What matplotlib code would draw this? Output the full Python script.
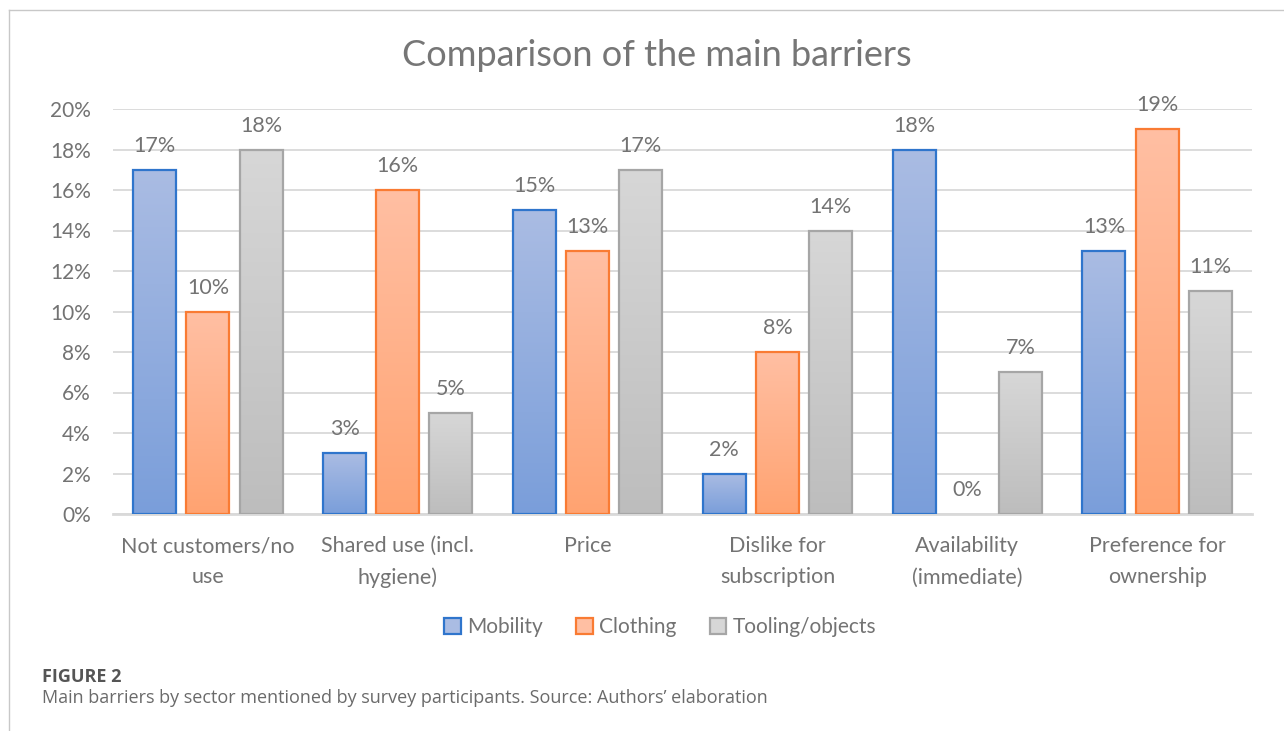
import matplotlib.pyplot as plt
import numpy as np
from matplotlib.colors import LinearSegmentedColormap
from matplotlib.patches import Patch
from matplotlib.lines import Line2D

# Data
categories = ['Not customers/no\nuse', 'Shared use (incl.\nhygiene)', 'Price',
              'Dislike for\nsubscription', 'Availability\n(immediate)', 'Preference for\nownership']
series_names = ['Mobility', 'Clothing', 'Tooling/objects']
mobility = [17, 3, 15, 2, 18, 13]
clothing = [10, 16, 13, 8, 0, 19]
tooling = [18, 5, 17, 14, 7, 11]
yticks = [0, 2, 4, 6, 8, 10, 12, 14, 16, 18, 20]

# Styles: (top colour, bottom colour, edge colour)
styles = [('#AABCE3', '#7A9EDA', '#2F75CC'),
          ('#FFBFA3', '#FFA371', '#F97B33'),
          ('#D7D7D7', '#BDBDBD', '#A6A6A6')]
text_col = '#737373'

plt.rcParams['font.family'] = ['Lato', 'DejaVu Sans']

fig = plt.figure(figsize=(12.84, 7.31), dpi=100)
ax = fig.add_axes([113 / 1284, 1 - 514 / 731, (1252 - 113) / 1284, (514 - 109) / 731])

x = np.arange(len(categories))
width = 0.227
offsets = [-0.28, 0, 0.28]
grad = np.linspace(1, 0, 256).reshape(-1, 1)

for vals, off, (top, bot, edge) in zip([mobility, clothing, tooling], offsets, styles):
    cmap = LinearSegmentedColormap.from_list('g', [bot, top])
    bars = ax.bar(x + off, vals, width, facecolor='none', edgecolor=edge,
                  linewidth=1.6, zorder=4)
    for b, v in zip(bars, vals):
        if v > 0:
            x0 = b.get_x()
            im = ax.imshow(grad, extent=[x0, x0 + width, 0, v], aspect='auto',
                           cmap=cmap, vmin=0, vmax=1, zorder=3, origin='upper')
            im.set_clip_path(b)
        else:
            b.set_linewidth(0)
        ax.annotate(f'{v}%', (b.get_x() + width / 2, v), xytext=(0, 10),
                    textcoords='offset points', ha='center', va='bottom',
                    fontsize=15.5, color=text_col)

ax.set_xlim(-0.5, len(categories) - 0.5)
ax.set_ylim(0, 20)
ax.set_yticks(yticks)
ax.set_yticklabels([f'{t}%' for t in yticks])
ax.set_xticks(x)
ax.set_xticklabels(categories, linespacing=1.7)
ax.tick_params(axis='y', length=0, pad=16, labelsize=15, labelcolor=text_col)
ax.tick_params(axis='x', length=0, pad=16, labelsize=15.5, labelcolor=text_col)
ax.grid(axis='y', color='#D9D9D9', linewidth=1.3, zorder=0)
ax.set_axisbelow(True)
for s in ['top', 'right', 'left']:
    ax.spines[s].set_visible(False)
ax.spines['bottom'].set_color('#D9D9D9')
ax.spines['bottom'].set_linewidth(2)

fig.text(657 / 1284, 1 - 56 / 731, 'Comparison of the main barriers', ha='center',
         va='center', fontsize=26, color='#767676')

handles = [Patch(facecolor=top, edgecolor=edge, linewidth=1.6) for top, bot, edge in styles]
fig.legend(handles, series_names, loc='center', bbox_to_anchor=(660 / 1284, 1 - 627 / 731),
           ncol=3, frameon=False, fontsize=15, labelcolor=text_col,
           handlelength=0.8, handleheight=0.8, handletextpad=0.3, columnspacing=1.6)

# Frame and caption
fig.add_artist(Line2D([9 / 1284, 9 / 1284], [0, 1 - 10 / 731], color='#C8C8C8', linewidth=1))
fig.add_artist(Line2D([9 / 1284, 1], [1 - 10 / 731, 1 - 10 / 731], color='#C8C8C8', linewidth=1))
fig.text(42 / 1284, 1 - 677 / 731, 'FIGURE 2', ha='left', va='center', fontsize=13,
         fontweight='bold', color='#555555', family=['Open Sans', 'DejaVu Sans'])
fig.text(42 / 1284, 1 - 698 / 731,
         'Main barriers by sector mentioned by survey participants. Source: Authors\u2019 elaboration',
         ha='left', va='center', fontsize=13, color='#6A6A6A', family=['Open Sans', 'DejaVu Sans'])

fig.savefig('out.png', dpi=100, facecolor='white')
